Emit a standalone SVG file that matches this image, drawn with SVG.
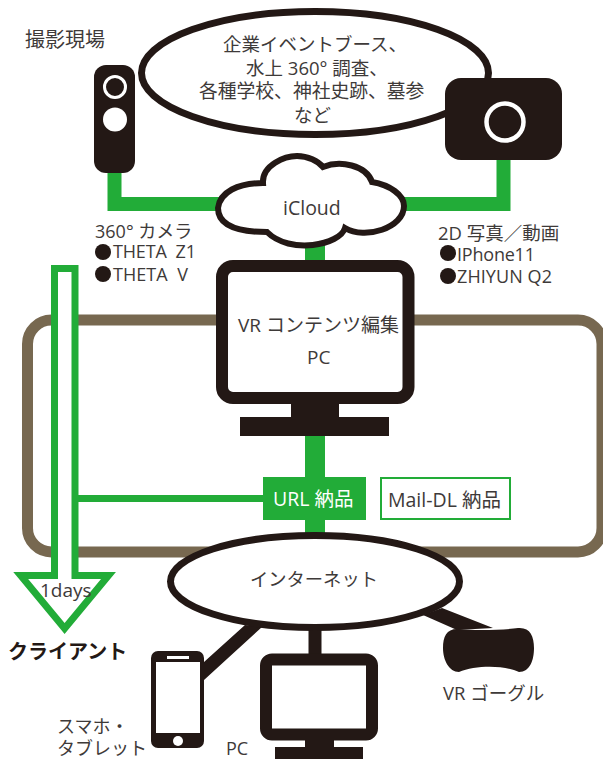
<svg xmlns="http://www.w3.org/2000/svg" width="603" height="759" viewBox="0 0 603 759">
<style>
text{font-family:"Open Sans","Noto Sans CJK JP",sans-serif;fill:#3e3a39;font-size:18px;white-space:pre}
.k{fill:#231815}
.ko{fill:#fff;stroke:#231815}
.g{fill:none;stroke:#22ac38}
</style>
<rect width="603" height="759" fill="#fff"/>
<g id="frame"><rect x="27.5" y="320" width="574.5" height="232" rx="24" fill="none" stroke="#776850" stroke-width="11"/></g>
<g id="connectors">
<path class="g" stroke-width="14" d="M114.5 172V204H225M503.5 160V204H400"/>
<path class="g" stroke-width="20" d="M315 245V270M315 430V540"/>
<path class="g" stroke-width="7" d="M78 498.5H270"/>
<path class="k" d="M245 625L262 627L204 680V662ZM423 615L442 608L493 628L457 630Z"/>
<path fill="none" stroke="#231815" stroke-width="13" d="M315 625V660"/>
</g>
<g id="delivery-arrow"><path fill="#fff" stroke="#22ac38" stroke-width="7" d="M54.5 268.500H75V575.500H108.500L64.600 628.500L20.700 575.500H54.500Z"/>
<text x="40" y="597" style="font-size:19px">1days</text></g>
<g id="site-label"><text x="25" y="47" style="font-size:20px">撮影現場</text></g>
<g id="venue"><ellipse cx="315" cy="73" rx="173.500" ry="61.500" fill="#fff" stroke="#231815" stroke-width="7"/>
<text x="223" y="51" style="font-size:18.500px">企業イベントブース、</text>
<text x="246" y="75" style="font-size:18.500px">水上 360° 調査、</text>
<text x="199" y="98" style="font-size:18.800px">各種学校、神社史跡、墓参</text>
<text x="294" y="122" style="font-size:18.500px">など</text></g>
<g id="camera-360"><rect x="94" y="65" width="41" height="108" rx="12" class="k"/>
<circle cx="115" cy="87" r="10.500" fill="none" stroke="#fff" stroke-width="3"/><circle cx="115" cy="119.500" r="12" fill="#fff"/></g>
<g id="camera-2d"><rect x="445" y="78" width="117" height="82" rx="16" class="k"/><circle cx="505" cy="122" r="18.500" fill="none" stroke="#fff" stroke-width="4.500"/></g>
<g id="icloud"><path fill="#fff" stroke="#231815" stroke-width="6" d="M218 208C220 192 238 183 263 183C262 165 285 156 297 156C308 156 318 161 323 167C340 160 366 165 372 182C390 185 404 195 404 206C404 228 365 240 345 228C340 245 290 255 267 232C240 232 218 226 218 208Z"/>
<text x="283" y="215" style="font-size:19.500px">iCloud</text></g>
<g id="camera-360-label"><text x="95" y="238">360° カメラ</text>
<circle cx="103" cy="252" r="8" class="k"/><text x="113" y="258" textLength="83">THETA  Z1</text>
<circle cx="103" cy="274" r="8" class="k"/><text x="113" y="281" textLength="75">THETA  V</text></g>
<g id="camera-2d-label"><text x="438" y="240" style="font-size:18.500px">2D 写真／動画</text>
<circle cx="448" cy="253" r="8" class="k"/><text x="457" y="261" textLength="78">IPhone11</text>
<circle cx="448" cy="276" r="8" class="k"/><text x="457" y="283" textLength="95">ZHIYUN Q2</text></g>
<g id="editing-pc"><rect x="222" y="266" width="186.500" height="132" rx="11" fill="#fff" stroke="#231815" stroke-width="12"/>
<path class="k" d="M291 398H339V417H389V436H240V417H291Z"/>
<text x="238" y="332" style="font-size:19px">VR コンテンツ編集</text>
<text x="307" y="364" style="font-size:19px">PC</text></g>
<g id="url-delivery"><rect x="263" y="477" width="103" height="43" fill="#22ac38"/><text x="273" y="506" style="fill:#fff;font-size:19.500px">URL 納品</text></g>
<g id="mail-delivery"><rect x="381" y="478" width="129" height="41" fill="#fff" stroke="#22ac38" stroke-width="2"/><text x="388" y="507" style="font-size:19.500px">Mail-DL 納品</text></g>
<g id="internet"><ellipse cx="315" cy="581.500" rx="144.500" ry="46" fill="#fff" stroke="#231815" stroke-width="7"/><text x="250" y="586" style="font-size:18.300px">インターネット</text></g>
<g id="client"><text x="8" y="659" style="font-size:20px;font-weight:700;fill:#231815">クライアント</text></g>
<g id="smartphone"><rect x="151" y="651" width="53" height="97" rx="7" class="k"/><rect x="156" y="662" width="44" height="71" fill="#fff"/><rect x="167" y="656" width="22" height="3" fill="#fff"/><circle cx="178" cy="741" r="5" fill="#fff"/></g>
<g id="smartphone-label"><text x="57" y="733">スマホ・</text><text x="57" y="755">タブレット</text></g>
<g id="client-pc"><rect x="266" y="659.500" width="106" height="75" rx="6" fill="#fff" stroke="#231815" stroke-width="12"/><path class="k" d="M305 740H334V747H363V759H275V747H305Z"/></g>
<g id="pc-label"><text x="226" y="755">PC</text></g>
<g id="vr-goggles"><path class="k" d="M459 629C475 631 505 630 518 628C530 627 534 636 534 648C534 660 530 672 519 672C505 665 475 665 459 672C449 672 443 660 443 648C443 636 447 628 459 629Z"/></g>
<g id="vr-label"><text x="443" y="700" style="font-size:18.500px">VR ゴーグル</text></g>
</svg>
